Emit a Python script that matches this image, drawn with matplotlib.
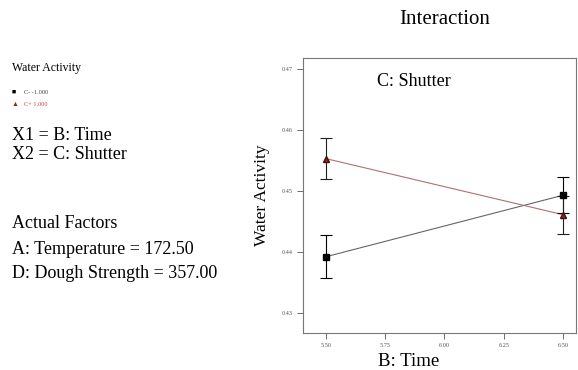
import matplotlib.pyplot as plt

plt.rcParams['font.family'] = ['Liberation Serif', 'DejaVu Serif']

# B: Time levels and predicted water activity for each C: Shutter level
time = [5.50, 6.50]
shutter_low = [0.4392, 0.4493]
shutter_high = [0.4553, 0.4461]
ci_low = [0.0035, 0.0030]
ci_high = [0.0033, 0.0031]

xticks = [5.50, 5.75, 6.00, 6.25, 6.50]
yticks = [0.43, 0.44, 0.45, 0.46, 0.47]

fig = plt.figure(figsize=(5.78, 3.70), dpi=100)
ax = fig.add_axes([303 / 578, 37 / 370, 273 / 578, 275 / 370])

ax.plot(time, shutter_low, color='#666666', lw=0.8)
ax.plot(time, shutter_high, color='#b07070', lw=0.8)
ax.errorbar(time, shutter_low, yerr=ci_low, fmt='s', color='black', ms=4,
            capsize=4.5, elinewidth=0.8, capthick=0.8)
ax.errorbar(time, shutter_high, yerr=ci_high, fmt='^', color='#202020', ms=4,
            capsize=4.5, elinewidth=0.8, capthick=0.8, mfc='#a02020', mec='#401010')

ax.set_xlim(5.404, 6.554)
ax.set_ylim(0.4267, 0.4718)
ax.set_xticks(xticks)
ax.set_xticklabels([f'{v:.2f}' for v in xticks])
ax.set_yticks(yticks)
ax.set_yticklabels([f'{v:.2f}' for v in yticks])
ax.tick_params(labelsize=4.5, colors='#555555', length=4, width=0.6)
for s in ax.spines.values():
    s.set_color('#777777')
    s.set_linewidth(0.8)

ax.set_ylabel('Water Activity', fontsize=12.5, labelpad=8)
fig.text(409 / 578, 1 - 362 / 370, 'B: Time', fontsize=13.5, ha='center', va='center')
ax.text(0.27, 0.9, 'C: Shutter', transform=ax.transAxes, fontsize=13)
fig.text(445 / 578, 1 - 20 / 370, 'Interaction', fontsize=15, ha='center', va='center')

# design summary on the left
fig.text(12 / 578, 1 - 68 / 370, 'Water Activity', fontsize=8.5, va='center')
fig.text(12 / 578, 1 - 92 / 370, '\u25a0', fontsize=5, va='center', color='black')
fig.text(24 / 578, 1 - 92 / 370, 'C- -1.000', fontsize=4.5, va='center', color='#444444')
fig.text(12 / 578, 1 - 105 / 370, '\u25b2', fontsize=5, va='center', color='#a02020')
fig.text(24 / 578, 1 - 105 / 370, 'C+ 1.000', fontsize=4.5, va='center', color='#c04040')
fig.text(12 / 578, 1 - 135 / 370, 'X1 = B: Time', fontsize=13, va='center')
fig.text(12 / 578, 1 - 155 / 370, 'X2 = C: Shutter', fontsize=13, va='center')
fig.text(12 / 578, 1 - 224 / 370, 'Actual Factors', fontsize=13, va='center')
fig.text(12 / 578, 1 - 249 / 370, 'A: Temperature = 172.50', fontsize=13, va='center')
fig.text(12 / 578, 1 - 273 / 370, 'D: Dough Strength = 357.00', fontsize=13, va='center')

fig.savefig('out.png', dpi=100)
